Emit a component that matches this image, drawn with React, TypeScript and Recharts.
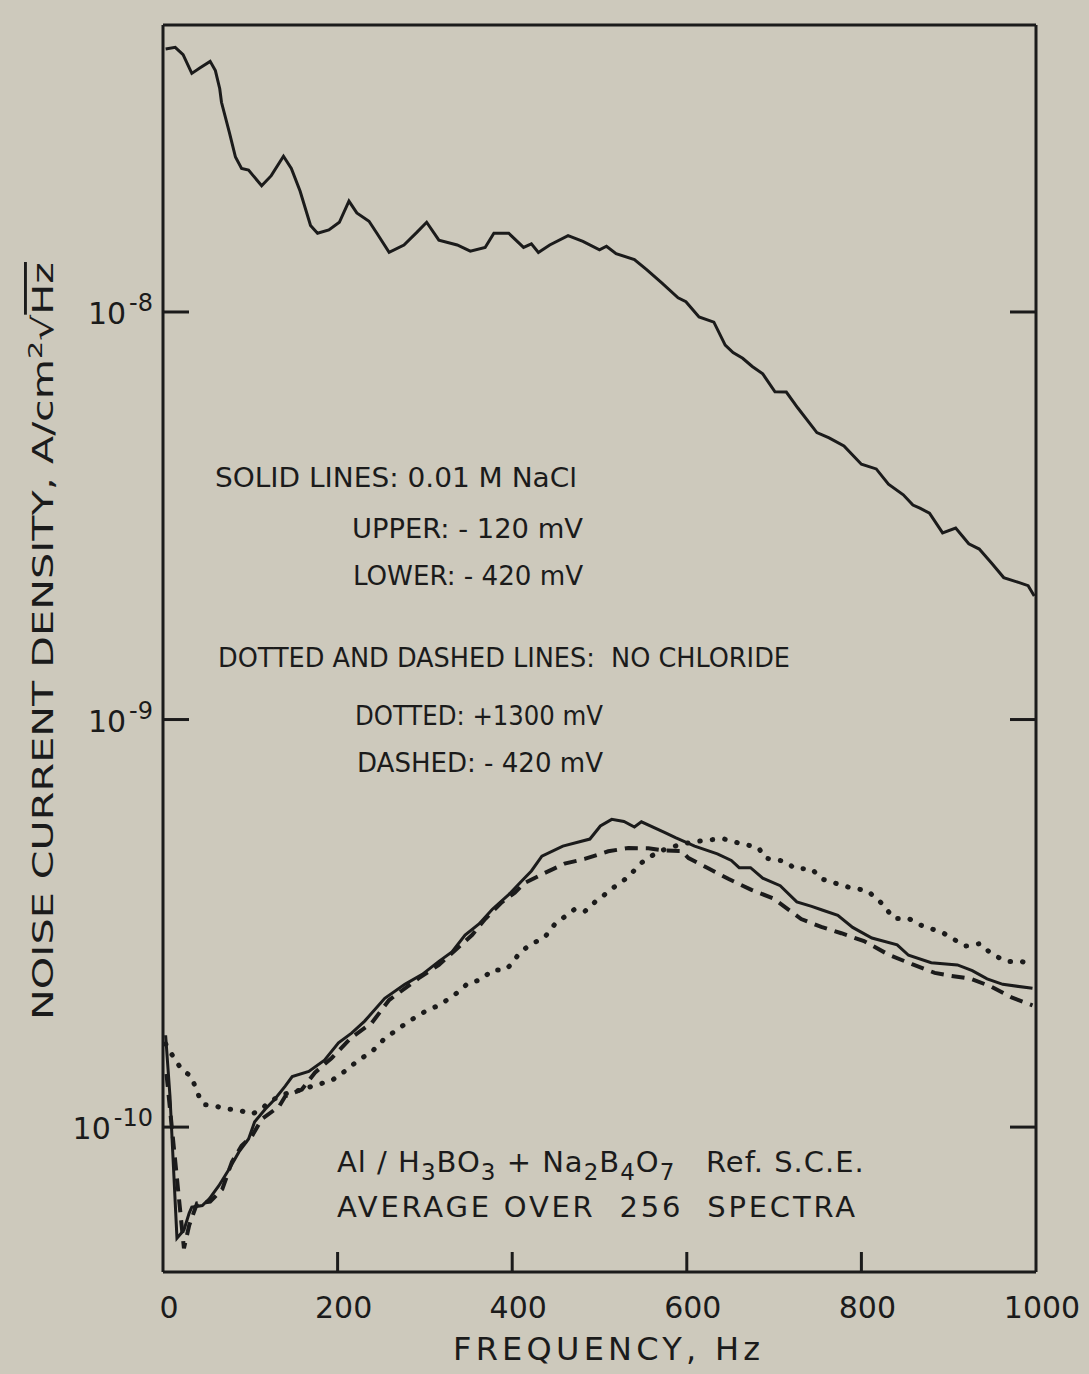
import React from "react";
import { Line, LineChart, XAxis, YAxis } from "recharts";

// solid, upper: 0.01 M NaCl, -120 mV
const upperFreq = [3, 14, 23, 33, 43, 54, 60, 65, 67, 76, 83, 90, 98, 113, 124, 138, 147, 157, 169, 177, 190, 202, 213, 222, 236, 245, 259, 276, 291, 302, 316, 337, 352, 369, 379, 396, 413, 422, 430, 443, 464, 481, 500, 508, 519, 540, 554, 571, 590, 599, 614, 631, 644, 653, 664, 675, 687, 701, 714, 727, 749, 763, 780, 800, 817, 831, 848, 859, 867, 878, 893, 908, 923, 935, 949, 963, 980, 991, 998];
const upperNoise = [4.42e-8, 4.46e-8, 4.28e-8, 3.85e-8, 3.98e-8, 4.12e-8, 3.91e-8, 3.53e-8, 3.27e-8, 2.76e-8, 2.4e-8, 2.25e-8, 2.23e-8, 2.04e-8, 2.16e-8, 2.41e-8, 2.25e-8, 1.98e-8, 1.63e-8, 1.56e-8, 1.59e-8, 1.66e-8, 1.87e-8, 1.75e-8, 1.67e-8, 1.56e-8, 1.4e-8, 1.46e-8, 1.57e-8, 1.66e-8, 1.5e-8, 1.46e-8, 1.41e-8, 1.44e-8, 1.56e-8, 1.56e-8, 1.44e-8, 1.47e-8, 1.4e-8, 1.46e-8, 1.54e-8, 1.49e-8, 1.42e-8, 1.45e-8, 1.39e-8, 1.345e-8, 1.27e-8, 1.18e-8, 1.083e-8, 1.06e-8, 9.72e-9, 9.44e-9, 8.29e-9, 7.95e-9, 7.7e-9, 7.35e-9, 7.05e-9, 6.37e-9, 6.36e-9, 5.82e-9, 5.06e-9, 4.91e-9, 4.69e-9, 4.23e-9, 4.12e-9, 3.78e-9, 3.56e-9, 3.36e-9, 3.3e-9, 3.21e-9, 2.87e-9, 2.95e-9, 2.7e-9, 2.62e-9, 2.42e-9, 2.23e-9, 2.17e-9, 2.13e-9, 2.01e-9];

// solid, lower: 0.01 M NaCl, -420 mV
const lowerFreq = [3, 8, 16, 24, 30, 33, 45, 53, 64, 76, 87, 98, 105, 117, 128, 140, 148, 167, 185, 201, 216, 231, 254, 277, 297, 316, 331, 346, 362, 377, 396, 412, 422, 434, 458, 489, 501, 514, 528, 540, 548, 575, 587, 609, 635, 651, 660, 673, 687, 707, 726, 743, 755, 773, 790, 812, 841, 854, 880, 910, 927, 944, 962, 996];
const lowerNoise = [1.68e-10, 1.19e-10, 5.34e-11, 5.59e-11, 6.15e-11, 6.36e-11, 6.42e-11, 6.67e-11, 7.18e-11, 7.9e-11, 8.69e-11, 9.35e-11, 1.03e-10, 1.106e-10, 1.17e-10, 1.26e-10, 1.33e-10, 1.37e-10, 1.46e-10, 1.61e-10, 1.7e-10, 1.82e-10, 2.07e-10, 2.24e-10, 2.37e-10, 2.55e-10, 2.69e-10, 2.96e-10, 3.15e-10, 3.42e-10, 3.72e-10, 4.04e-10, 4.25e-10, 4.62e-10, 4.89e-10, 5.09e-10, 5.48e-10, 5.69e-10, 5.62e-10, 5.45e-10, 5.61e-10, 5.28e-10, 5.13e-10, 4.89e-10, 4.68e-10, 4.51e-10, 4.33e-10, 4.33e-10, 4.08e-10, 3.91e-10, 3.57e-10, 3.48e-10, 3.41e-10, 3.31e-10, 3.09e-10, 2.91e-10, 2.8e-10, 2.64e-10, 2.53e-10, 2.5e-10, 2.42e-10, 2.31e-10, 2.24e-10, 2.19e-10];

// dashed: no chloride, -420 mV
const dashedFreq = [4, 24, 30, 39, 54, 68, 79, 90, 102, 113, 133, 140, 159, 174, 193, 216, 239, 259, 293, 316, 354, 369, 388, 403, 414, 437, 460, 483, 510, 533, 556, 575, 594, 602, 625, 648, 674, 699, 731, 754, 777, 803, 831, 858, 884, 903, 926, 949, 972, 996];
const dashedNoise = [1.35e-10, 5.04e-11, 5.74e-11, 6.5e-11, 6.56e-11, 7.05e-11, 8.22e-11, 9.0e-11, 9.51e-11, 1.045e-10, 1.124e-10, 1.19e-10, 1.236e-10, 1.36e-10, 1.476e-10, 1.66e-10, 1.8e-10, 2.05e-10, 2.32e-10, 2.5e-10, 2.96e-10, 3.24e-10, 3.56e-10, 3.76e-10, 3.97e-10, 4.2e-10, 4.43e-10, 4.55e-10, 4.75e-10, 4.84e-10, 4.83e-10, 4.77e-10, 4.76e-10, 4.57e-10, 4.31e-10, 4.06e-10, 3.82e-10, 3.64e-10, 3.24e-10, 3.1e-10, 2.99e-10, 2.86e-10, 2.65e-10, 2.51e-10, 2.39e-10, 2.35e-10, 2.31e-10, 2.21e-10, 2.08e-10, 1.99e-10];

// dotted: no chloride, +1300 mV
const dottedFreq = [3, 14, 22, 33, 37, 42, 47, 58, 70, 87, 102, 113, 121, 136, 159, 176, 193, 208, 224, 239, 254, 282, 300, 316, 334, 350, 365, 377, 392, 400, 408, 422, 436, 449, 460, 472, 483, 495, 506, 516, 525, 535, 545, 554, 571, 594, 611, 626, 643, 656, 682, 690, 712, 724, 743, 755, 768, 785, 807, 824, 837, 854, 868, 893, 919, 936, 949, 966, 983, 996];
const dottedNoise = [1.6e-10, 1.46e-10, 1.38e-10, 1.33e-10, 1.25e-10, 1.18e-10, 1.135e-10, 1.13e-10, 1.11e-10, 1.1e-10, 1.076e-10, 1.107e-10, 1.15e-10, 1.2e-10, 1.236e-10, 1.27e-10, 1.3e-10, 1.37e-10, 1.46e-10, 1.53e-10, 1.65e-10, 1.82e-10, 1.92e-10, 1.99e-10, 2.11e-10, 2.26e-10, 2.3e-10, 2.43e-10, 2.43e-10, 2.52e-10, 2.67e-10, 2.82e-10, 2.9e-10, 3.15e-10, 3.28e-10, 3.43e-10, 3.38e-10, 3.57e-10, 3.72e-10, 3.87e-10, 3.99e-10, 4.15e-10, 4.39e-10, 4.56e-10, 4.77e-10, 4.95e-10, 5.02e-10, 5.07e-10, 5.09e-10, 5.0e-10, 4.85e-10, 4.57e-10, 4.49e-10, 4.31e-10, 4.3e-10, 4.06e-10, 3.98e-10, 3.88e-10, 3.8e-10, 3.53e-10, 3.25e-10, 3.25e-10, 3.13e-10, 3.0e-10, 2.78e-10, 2.82e-10, 2.66e-10, 2.55e-10, 2.55e-10, 2.5e-10];

const freqTicks = [0, 200, 400, 600, 800, 1000];
const innerFreqTicks = [200, 400, 600, 800];
const decadeTicks = [1e-10, 1e-9, 1e-8];
const noiseDomain = [4.41e-11, 5.06e-8];

const W = 1089;
const H = 1374;
const INK = "#1b1b1b";
const PAPER = "#cdc9bc";
const GEO = "'DejaVu Sans', 'Liberation Sans', sans-serif";
const COND = "'DejaVu Sans Condensed', 'DejaVu Sans', sans-serif";

const pairs = (f: number[], v: number[]) => f.map((x, i) => ({ f: x, v: v[i] }));

const BottomTick = (props: any) => {
  const { x, y, payload } = props;
  const inner = payload.value > 0 && payload.value < 1000;
  return (
    <g>
      {inner && <line x1={x} y1={y} x2={x} y2={y - 20} stroke={INK} strokeWidth={3} />}
      <text x={x + 6} y={y + 46} textAnchor="middle" fontSize={30} fontFamily={GEO} fill={INK}>
        {payload.value}
      </text>
    </g>
  );
};

const TopTick = (props: any) => {
  const { x, y } = props;
  return <line x1={x} y1={y} x2={x} y2={y + 22} stroke={INK} strokeWidth={3} />;
};

const LeftTick = (props: any) => {
  const { x, y, payload } = props;
  const exp = Math.round(Math.log10(payload.value));
  return (
    <g>
      <line x1={x} y1={y} x2={x + 26} y2={y} stroke={INK} strokeWidth={3} />
      <text x={x - 10} y={y + 12} textAnchor="end" fontSize={30} fontFamily={GEO} fill={INK}>
        10
        <tspan dx={3} dy={-13} fontSize={24}>
          {exp}
        </tspan>
      </text>
    </g>
  );
};

const RightTick = (props: any) => {
  const { x, y } = props;
  return <line x1={x} y1={y} x2={x - 26} y2={y} stroke={INK} strokeWidth={3} />;
};

const axisLine = { stroke: INK, strokeWidth: 3 };

export default function App() {
  return (
    <div style={{ position: "absolute", left: 0, top: 0, width: W, height: H, background: PAPER }}>
      <LineChart width={W} height={H} margin={{ top: 24, right: 52, bottom: 101, left: 162 }}>
        <XAxis
          xAxisId="b"
          dataKey="f"
          type="number"
          domain={[0, 1000]}
          ticks={freqTicks}
          height={1}
          tickSize={0}
          tickMargin={0}
          tickLine={false}
          axisLine={axisLine}
          tick={<BottomTick />}
          allowDataOverflow
        />
        <XAxis
          xAxisId="t"
          orientation="top"
          type="number"
          domain={[0, 1000]}
          ticks={innerFreqTicks}
          height={1}
          tickSize={0}
          tickMargin={0}
          tickLine={false}
          axisLine={axisLine}
          tick={<TopTick />}
        />
        <YAxis
          yAxisId="l"
          scale="log"
          type="number"
          domain={noiseDomain}
          ticks={decadeTicks}
          width={1}
          tickSize={0}
          tickMargin={0}
          tickLine={false}
          axisLine={axisLine}
          tick={<LeftTick />}
          allowDataOverflow
        />
        <YAxis
          yAxisId="r"
          orientation="right"
          scale="log"
          type="number"
          domain={noiseDomain}
          ticks={decadeTicks}
          width={1}
          tickSize={0}
          tickMargin={0}
          tickLine={false}
          axisLine={axisLine}
          tick={<RightTick />}
          allowDataOverflow
        />
        <Line
          data={pairs(upperFreq, upperNoise)}
          xAxisId="b"
          yAxisId="l"
          dataKey="v"
          type="linear"
          stroke={INK}
          strokeWidth={3}
          dot={false}
          isAnimationActive={false}
        />
        <Line
          data={pairs(lowerFreq, lowerNoise)}
          xAxisId="b"
          yAxisId="l"
          dataKey="v"
          type="linear"
          stroke={INK}
          strokeWidth={3}
          dot={false}
          isAnimationActive={false}
        />
        <Line
          data={pairs(dashedFreq, dashedNoise)}
          xAxisId="b"
          yAxisId="l"
          dataKey="v"
          type="linear"
          stroke={INK}
          strokeWidth={4}
          strokeDasharray="13 8"
          dot={false}
          isAnimationActive={false}
        />
        <Line
          data={pairs(dottedFreq, dottedNoise)}
          xAxisId="b"
          yAxisId="l"
          dataKey="v"
          type="linear"
          stroke={INK}
          strokeWidth={5}
          strokeLinecap="round"
          strokeDasharray="0.5 12"
          dot={false}
          isAnimationActive={false}
        />
      </LineChart>

      <svg
        width={W}
        height={H}
        style={{ position: "absolute", left: 0, top: 0, pointerEvents: "none" }}
      >
        <g fill={INK} fontFamily={COND} fontSize={27}>
          <text x={215} y={487} textLength={362} lengthAdjust="spacingAndGlyphs">SOLID LINES: 0.01 M NaCl</text>
          <text x={352} y={538} textLength={231} lengthAdjust="spacingAndGlyphs">UPPER: - 120 mV</text>
          <text x={353} y={585} textLength={230} lengthAdjust="spacingAndGlyphs">LOWER: - 420 mV</text>
          <text x={218} y={667} textLength={572} lengthAdjust="spacingAndGlyphs" style={{ whiteSpace: "pre" }}>
            DOTTED AND DASHED LINES:  NO CHLORIDE
          </text>
          <text x={355} y={725} textLength={248} lengthAdjust="spacingAndGlyphs">DOTTED: +1300 mV</text>
          <text x={357} y={772} textLength={246} lengthAdjust="spacingAndGlyphs">DASHED: - 420 mV</text>
        </g>

        <g fill={INK} fontFamily={GEO}>
          <text x={337} y={1172} fontSize={29} style={{ whiteSpace: "pre" }} letterSpacing={1}>
            Al / H<tspan dy={8} fontSize={23}>3</tspan>
            <tspan dy={-8}>BO</tspan>
            <tspan dy={8} fontSize={23}>3</tspan>
            <tspan dy={-8}> + Na</tspan>
            <tspan dy={8} fontSize={23}>2</tspan>
            <tspan dy={-8}>B</tspan>
            <tspan dy={8} fontSize={23}>4</tspan>
            <tspan dy={-8}>O</tspan>
            <tspan dy={8} fontSize={23}>7</tspan>
            <tspan dy={-8}>{"   Ref. S.C.E."}</tspan>
          </text>
          <text x={337} y={1217} fontSize={29} textLength={518} lengthAdjust="spacing" style={{ whiteSpace: "pre" }}>
            AVERAGE OVER  256  SPECTRA
          </text>
          <text x={453} y={1360} fontSize={32} textLength={307} lengthAdjust="spacing">
            FREQUENCY, Hz
          </text>
        </g>

        <text
          x={53}
          y={641}
          transform="rotate(-90 53 641)"
          textAnchor="middle"
          fill={INK}
          fontFamily={GEO}
          fontSize={29}
          textLength={758}
          lengthAdjust="spacingAndGlyphs"
        >
          NOISE CURRENT DENSITY, A/cm<tspan dy={-11} fontSize={20}>2</tspan>
          <tspan dy={11}>√</tspan>
          <tspan style={{ textDecoration: "overline" }}>Hz</tspan>
        </text>
      </svg>
    </div>
  );
}
